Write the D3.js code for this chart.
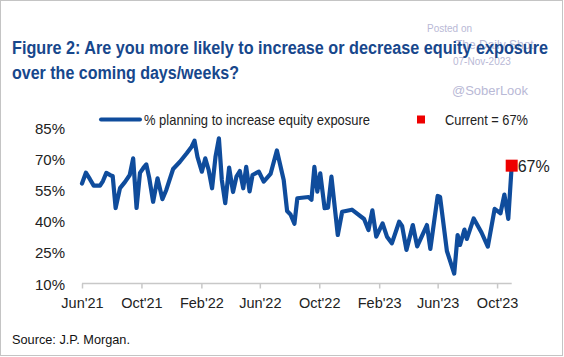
<!DOCTYPE html>
<html><head><meta charset="utf-8">
<script src="https://cdn.jsdelivr.net/npm/d3@7"></script>
<style>html,body{margin:0;padding:0;background:#fff}svg{display:block}</style>
</head><body>
<svg id="c" width="564" height="357"></svg>
<script>
const dates = ["2021-06-01","2021-06-09","2021-06-17","2021-06-25","2021-07-08","2021-07-14","2021-07-21","2021-07-30","2021-08-03","2021-08-09","2021-08-18","2021-08-28","2021-09-07","2021-09-14","2021-09-21","2021-09-28","2021-10-05","2021-10-11","2021-10-17","2021-10-25","2021-11-03","2021-11-13","2021-11-21","2021-12-05","2021-12-19","2022-01-02","2022-01-12","2022-01-18","2022-01-24","2022-02-02","2022-02-09","2022-02-16","2022-02-23","2022-03-02","2022-03-09","2022-03-15","2022-03-22","2022-03-30","2022-04-07","2022-04-14","2022-04-21","2022-04-28","2022-05-04","2022-05-11","2022-05-17","2022-05-30","2022-06-09","2022-06-23","2022-07-06","2022-07-20","2022-07-27","2022-08-03","2022-08-11","2022-08-17","2022-09-09","2022-09-15","2022-09-21","2022-09-27","2022-10-03","2022-10-12","2022-10-19","2022-10-26","2022-11-08","2022-11-17","2022-12-07","2023-01-01","2023-01-10","2023-01-18","2023-01-26","2023-02-08","2023-02-17","2023-02-27","2023-03-14","2023-03-20","2023-03-29","2023-04-11","2023-04-20","2023-05-10","2023-05-17","2023-06-01","2023-06-06","2023-06-20","2023-07-05","2023-07-12","2023-07-17","2023-07-26","2023-07-31","2023-08-14","2023-08-30","2023-09-12","2023-09-26","2023-10-08","2023-10-16","2023-10-24","2023-10-31"];
const values = [58.4,63.6,60.6,57.4,57.4,59.6,63.5,62.3,62.0,46.6,56.2,59.1,62.5,70.5,46.6,63.5,65.9,67.6,61.1,49.6,60.9,50.9,55.3,65.4,68.9,73.0,76.1,79.0,71.2,64.1,70.5,64.9,56.1,71.2,80.2,60.1,48.9,66.1,54.3,61.7,64.4,56.1,66.4,54.6,62.5,64.1,59.3,63.0,74.3,60.1,45.2,43.5,39.0,51.3,51.9,50.6,66.4,54.5,63.3,46.5,46.8,61.7,33.6,44.8,45.8,41.3,36.0,45.5,32.8,39.2,32.8,29.6,40.0,38.0,26.4,38.4,28.1,38.4,26.9,52.4,51.9,25.9,15.0,33.6,28.8,36.2,31.7,41.6,34.8,28.0,46.2,44.1,53.1,41.4,67.0];
const yTicks = [10,25,40,55,70,85];
const xTickLabels = ["Jun'21","Oct'21","Feb'22","Jun'22","Oct'22","Feb'23","Jun'23","Oct'23"];
const xTickDates = ["2021-06-01","2021-10-01","2022-02-01","2022-06-01","2022-10-01","2023-02-01","2023-06-01","2023-10-01"];
const currentValue = 67;
const seriesName = "% planning to increase equity exposure";

const parse = d3.timeParse("%Y-%m-%d");
const data = dates.map((d,i)=>({date:parse(d), value:values[i]}));
const svg = d3.select("#c");
const font = "'Liberation Sans', Arial, sans-serif";
const blue = "#0f4c9c";

svg.append("rect").attr("x",0.5).attr("y",0.5).attr("width",562).attr("height",355)
  .attr("fill","#fff").attr("stroke","#c4c4c4");

// watermark
const wm = "#b9b9d6";
svg.append("text").attr("x",427).attr("y",32).attr("font-family",font).attr("font-size",10).attr("fill",wm).text("Posted on");
svg.append("text").attr("x",455).attr("y",49).attr("font-family",font).attr("font-size",12).attr("fill",wm).text("The Daily Shot");
svg.append("text").attr("x",453).attr("y",65).attr("font-family",font).attr("font-size",10).attr("fill",wm).text("07-Nov-2023");
svg.append("text").attr("x",452).attr("y",95).attr("font-family",font).attr("font-size",13).attr("fill",wm).text("@SoberLook");

// title
const tcol = "#17478c";
svg.append("text").attr("transform","translate(12,54) scale(1,1.09)").attr("font-family",font).attr("font-weight","bold")
  .attr("font-size",16.5).attr("fill",tcol).attr("textLength",536).attr("lengthAdjust","spacingAndGlyphs")
  .text("Figure 2: Are you more likely to increase or decrease equity exposure");
svg.append("text").attr("transform","translate(12,79) scale(1,1.09)").attr("font-family",font).attr("font-weight","bold")
  .attr("font-size",16.5).attr("fill",tcol).attr("textLength",227).attr("lengthAdjust","spacingAndGlyphs")
  .text("over the coming days/weeks?");

// scales
const x = d3.scaleTime().domain([parse("2021-06-01"), parse("2023-10-31")]).range([82, 511.7]);
const y = d3.scaleLinear().domain([10,85]).range([284,128.3]);

// legend
svg.append("line").attr("x1",101).attr("x2",140).attr("y1",119.5).attr("y2",119.5)
  .attr("stroke",blue).attr("stroke-width",4).attr("stroke-linecap","round");
svg.append("text").attr("x",144).attr("y",124.5).attr("font-family",font).attr("font-size",14.5)
  .attr("fill","#222").attr("textLength",226).attr("lengthAdjust","spacingAndGlyphs").text(seriesName);
svg.append("rect").attr("x",417).attr("y",115.5).attr("width",8).attr("height",8).attr("fill","#ee0000");
svg.append("text").attr("x",445).attr("y",124.5).attr("font-family",font).attr("font-size",14.5)
  .attr("fill","#222").attr("textLength",83).attr("lengthAdjust","spacingAndGlyphs").text("Current = " + currentValue + "%");

// y axis labels
svg.append("g").selectAll("text").data(yTicks).join("text")
  .attr("x",65).attr("y",d=>y(d)+5.5).attr("text-anchor","end")
  .attr("font-family",font).attr("font-size",15).attr("fill","#222")
  .text(d=>d+"%");

// x axis
const xAxis = d3.axisBottom(x).tickValues(xTickDates.map(parse)).tickSize(5).tickFormat((d,i)=>xTickLabels[i]);
const gx = svg.append("g").attr("transform","translate(0,283.5)").call(xAxis);
gx.select(".domain").attr("stroke","#c8c8c8").attr("stroke-width",1.5).attr("d","M82,0H511.7");
gx.selectAll(".tick line").attr("stroke","#c8c8c8").attr("stroke-width",1.5);
gx.selectAll(".tick text").attr("font-family",font).attr("font-size",14.5).attr("fill","#222").attr("dy","1.15em");

// line
const line = d3.line().x(d=>x(d.date)).y(d=>y(d.value)).curve(d3.curveLinear);
svg.append("path").datum(data).attr("d",line).attr("fill","none").attr("stroke",blue)
  .attr("stroke-width",4.2).attr("stroke-linejoin","round").attr("stroke-linecap","round");

// current marker
const last = data[data.length-1];
svg.append("rect").attr("x",x(last.date)-6).attr("y",y(currentValue)-6).attr("width",12).attr("height",12).attr("fill","#ee0000");
svg.append("text").attr("x",x(last.date)+6).attr("y",y(currentValue)+6).attr("font-family",font)
  .attr("font-size",16).attr("fill","#222").text(currentValue+"%");

// source
svg.append("text").attr("x",12).attr("y",344).attr("font-family",font).attr("font-size",13.5)
  .attr("fill","#111").attr("textLength",118).attr("lengthAdjust","spacingAndGlyphs").text("Source: J.P. Morgan.");
</script>
</body></html>
